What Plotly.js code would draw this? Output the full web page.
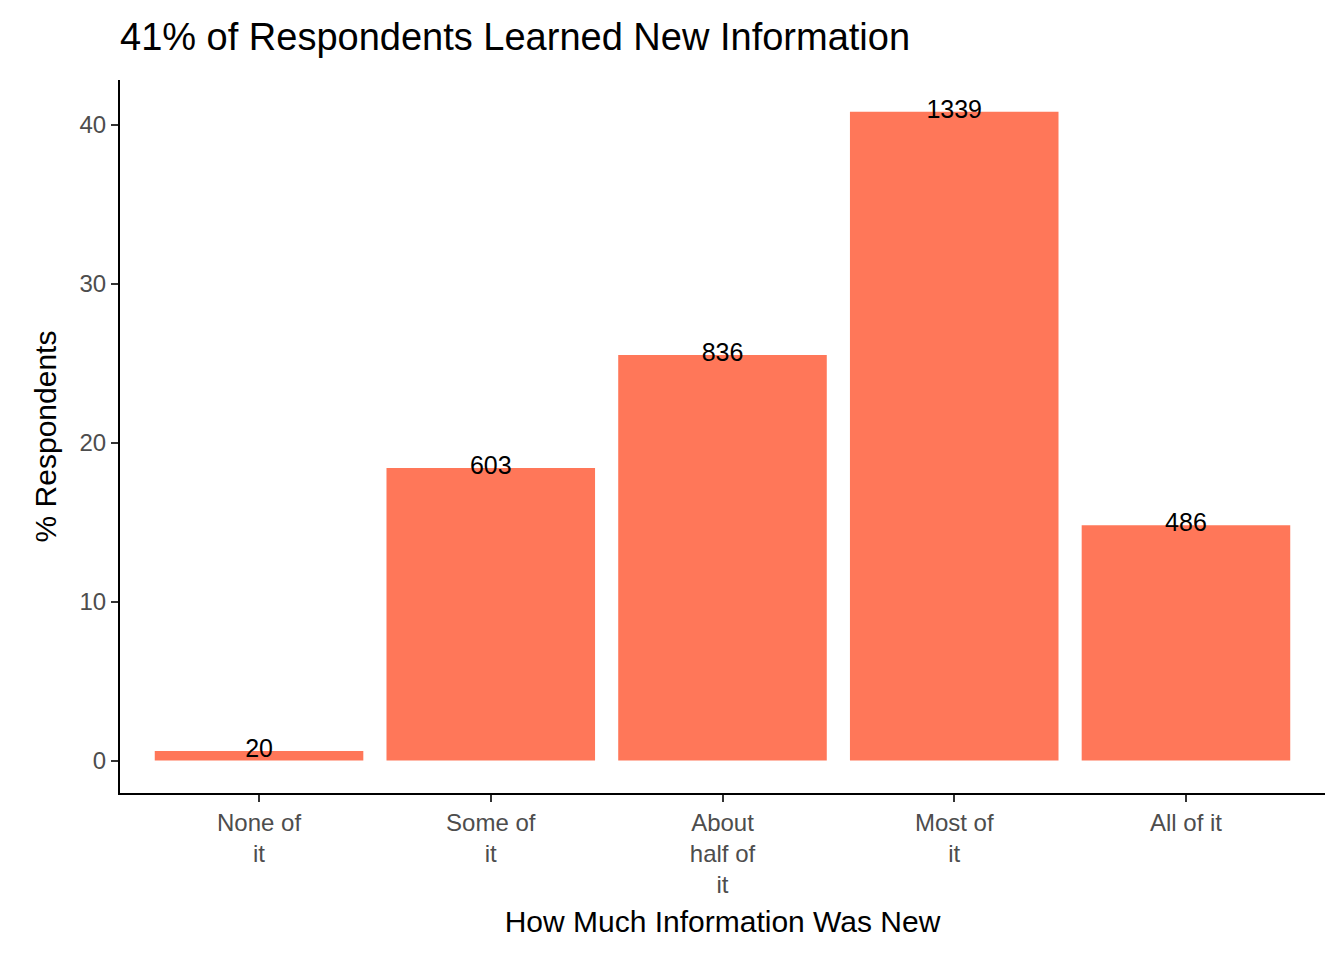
<!DOCTYPE html>
<html>
<head>
<meta charset="utf-8">
<script src="https://cdn.plot.ly/plotly-3.0.1.min.js"></script>
<style>body{margin:0}#chart{width:1344px;height:960px}</style>
</head>
<body>
<div id="chart"></div>
<script>
// categorías y valores
const categories = ["None of<br>it", "Some of<br>it", "About<br>half of<br>it", "Most of<br>it", "All of it"];
const pctValues = [0.6, 18.4, 25.5, 40.8, 14.8];
const counts = ["20", "603", "836", "1339", "486"];

const font = "Liberation Sans, Arial, sans-serif";

const bars = {
  type: "bar",
  x: categories,
  y: pctValues,
  width: 0.9,
  marker: {color: "#FF7759"},
  hoverinfo: "none"
};

// etiquetas con el número de respuestas centradas en el tope de cada barra
const labels = {
  type: "scatter",
  mode: "text",
  x: categories,
  y: pctValues,
  text: counts,
  textposition: "middle center",
  textfont: {family: font, size: 25, color: "#000"},
  hoverinfo: "none"
};

const layout = {
  width: 1344, height: 960,
  margin: {l: 120, r: 19, t: 80, b: 167},
  showlegend: false,
  paper_bgcolor: "#fff", plot_bgcolor: "#fff",
  font: {family: font},
  title: {
    text: "41% of Respondents Learned New Information",
    font: {size: 38, color: "#000"},
    x: 120 / 1344, xanchor: "left", y: 0.962, yanchor: "middle"
  },
  xaxis: {
    range: [-0.6, 4.6],
    showline: true, linecolor: "#000", linewidth: 2,
    ticks: "outside", ticklen: 7, tickwidth: 2, tickcolor: "#333",
    tickfont: {size: 24, color: "#4d4d4d"},
    showgrid: false, zeroline: false,
    title: {text: "How Much Information Was New", font: {size: 30, color: "#000"}, standoff: 14}
  },
  yaxis: {
    range: [-2.04, 42.8],
    tickvals: [0, 10, 20, 30, 40],
    showline: true, linecolor: "#000", linewidth: 2,
    ticks: "outside", ticklen: 7, tickwidth: 2, tickcolor: "#333",
    tickfont: {size: 24, color: "#4d4d4d"},
    showgrid: false, zeroline: false,
    title: {text: "% Respondents", font: {size: 30, color: "#000"}, standoff: 14}
  }
};

Plotly.newPlot("chart", [bars, labels], layout, {displayModeBar: false, staticPlot: true});
</script>
</body>
</html>
